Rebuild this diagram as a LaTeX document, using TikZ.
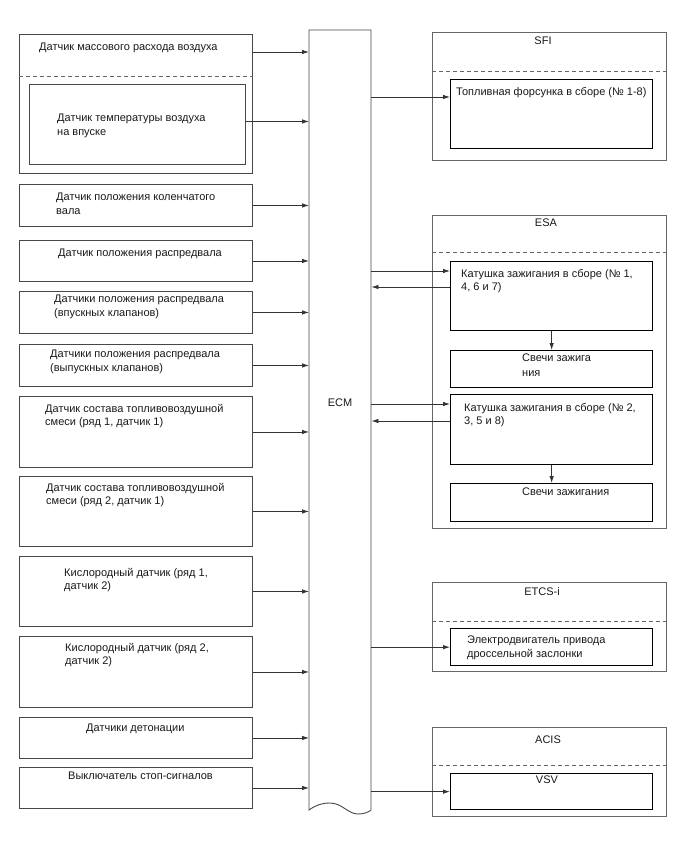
\documentclass[tikz,border=0pt]{standalone}
\usepackage{fontspec}
\setmainfont{Liberation Sans}
\usetikzlibrary{arrows.meta}
\begin{document}
\begin{tikzpicture}[x=1pt,y=-1pt,
  lbox/.style={draw=black!72,line width=0.9pt,inner sep=0,anchor=north west},
  gbox/.style={draw=black!60,line width=0.8pt,inner sep=0,anchor=north west},
  ibox/.style={draw=black,line width=1.3pt,inner sep=0,anchor=north west},
  txt/.style={inner sep=0,anchor=north west,align=left,font=\fontsize{11}{13.5}\selectfont,text=black!90},
  ctxt/.style={inner sep=0,font=\fontsize{11}{13.5}\selectfont,text=black!90},
  dline/.style={draw=black!60,line width=0.8pt,dash pattern=on 4pt off 3pt},
  arr/.style={draw=black!80,line width=0.8pt,-{Latex[length=7pt,width=4.5pt]}}
]
\useasboundingbox (0,0) rectangle (688,852);
% ECM
\node[inner sep=0,minimum width=62,minimum height=780,anchor=north west] (ecm) at (309,30) {};
\draw[draw=black!72,line width=0.9pt] (309,30) -- (309,810)
  .. controls (316,805) and (322,803) .. (330,803)
  .. controls (342,803) and (348,814) .. (358,814)
  .. controls (364,814) and (369,812) .. (371,810) -- (371,30) -- cycle;
\node[ctxt] (ecmt) at (340,403) {ECM};

% left boxes
\node[lbox,minimum width=233,minimum height=139] (b1) at (19,34) {};
\draw[dline] (b1.west |- 0,76) coordinate (d1) -- (d1 -| b1.east);
\node[lbox,minimum width=216,minimum height=80] (b1i) at (29,84) {};
\node[lbox,minimum width=233,minimum height=42] (b2) at (19,184) {};
\node[lbox,minimum width=233,minimum height=41] (b3) at (19,240) {};
\node[lbox,minimum width=233,minimum height=42] (b4) at (19,291) {};
\node[lbox,minimum width=233,minimum height=42] (b5) at (19,344) {};
\node[lbox,minimum width=233,minimum height=71] (b6) at (19,396) {};
\node[lbox,minimum width=233,minimum height=70] (b7) at (19,476) {};
\node[lbox,minimum width=233,minimum height=70] (b8) at (19,556) {};
\node[lbox,minimum width=233,minimum height=71] (b9) at (19,636) {};
\node[lbox,minimum width=233,minimum height=41] (b10) at (19,717) {};
\node[lbox,minimum width=233,minimum height=41] (b11) at (19,767) {};

\node[txt] (t1) at (39,43) {Датчик массового расхода воздуха};
\node[txt] (t1i) at (57,114) {Датчик температуры воздуха\\на впуске};
\node[txt] (t2) at (56,193) {Датчик положения коленчатого\\вала};
\node[txt] (t3) at (58,249) {Датчик положения распредвала};
\node[txt] (t4) at (54,295) {Датчики положения распредвала\\(впускных клапанов)};
\node[txt] (t5) at (50,350) {Датчики положения распредвала\\(выпускных клапанов)};
\node[txt] (t6) at (45,404) {Датчик состава топливовоздушной\\смеси (ряд 1, датчик 1)};
\node[txt] (t7) at (46,483) {Датчик состава топливовоздушной\\смеси (ряд 2, датчик 1)};
\node[txt] (t8) at (64,568) {Кислородный датчик (ряд 1,\\датчик 2)};
\node[txt] (t9) at (65,643) {Кислородный датчик (ряд 2,\\датчик 2)};
\node[txt] (t10) at (86,724) {Датчики детонации};
\node[txt] (t11) at (68,772) {Выключатель стоп-сигналов};

% left arrows
\coordinate (m1) at ([yshift=-18pt]b1.north east);
\draw[arr] (m1) -- (m1 -| ecm.west);
\coordinate (m1i) at ([yshift=3pt]b1i.east);
\draw[arr] (m1i) -- (m1i -| ecm.west);
\foreach \b in {b2,b3,b4,b5,b6,b7,b8,b9,b10,b11}
  \draw[arr] (\b.east) -- (\b.east -| ecm.west);

% SFI
\node[gbox,minimum width=234,minimum height=128] (sfi) at (432,32) {};
\node[ctxt] (sfit) at (543,41) {SFI};
\draw[dline] (sfi.west |- 0,71) coordinate (d2) -- (d2 -| sfi.east);
\node[ibox,minimum width=202,minimum height=69] (inj) at (450,79) {};
\node[txt] (injt) at (456,87) {Топливная форсунка в сборе (№ 1-8)};
\coordinate (a1) at ([yshift=-18pt]inj.north west);
\draw[arr] (a1 -| ecm.east) -- (a1);

% ESA
\node[gbox,minimum width=234,minimum height=313] (esa) at (432,215) {};
\node[ctxt] (esat) at (546,223) {ESA};
\draw[dline] (esa.west |- 0,252) coordinate (d3) -- (d3 -| esa.east);
\node[ibox,minimum width=202,minimum height=69] (c1) at (450,261) {};
\node[txt] (c1t) at (461,269) {Катушка зажигания в сборе (№ 1,\\4, 6 и 7)};
\node[ibox,minimum width=202,minimum height=37] (p1) at (450,350) {};
\node[txt,font=\fontsize{11}{15}\selectfont] (p1t) at (522,354) {Свечи зажига\\ния};
\node[ibox,minimum width=202,minimum height=70] (c2) at (450,394) {};
\node[txt] (c2t) at (464,403) {Катушка зажигания в сборе (№ 2,\\3, 5 и 8)};
\node[ibox,minimum width=202,minimum height=38] (p2) at (450,483) {};
\node[txt] (p2t) at (522,488) {Свечи зажигания};
\coordinate (a2) at ([yshift=-10pt]c1.north west);
\coordinate (a3) at ([yshift=-26pt]c1.north west);
\draw[arr] (a2 -| ecm.east) -- (a2);
\draw[arr] (a3) -- (a3 -| ecm.east);
\coordinate (a4) at ([yshift=-10pt]c2.north west);
\coordinate (a5) at ([yshift=-27pt]c2.north west);
\draw[arr] (a4 -| ecm.east) -- (a4);
\draw[arr] (a5) -- (a5 -| ecm.east);
\draw[arr] (c1.south) -- (p1.north);
\draw[arr] (c2.south) -- (p2.north);

% ETCS-i
\node[gbox,minimum width=234,minimum height=89] (etcs) at (432,582) {};
\node[ctxt] (etcst) at (542,592) {ETCS-i};
\draw[dline] (etcs.west |- 0,621) coordinate (d4) -- (d4 -| etcs.east);
\node[ibox,minimum width=202,minimum height=37] (mot) at (450,628) {};
\node[txt] (mott) at (467,636) {Электродвигатель привода\\дроссельной заслонки};
\draw[arr] (mot.west -| ecm.east) -- (mot.west);

% ACIS
\node[gbox,minimum width=234,minimum height=89] (acis) at (432,727) {};
\node[ctxt] (acist) at (548,740) {ACIS};
\draw[dline] (acis.west |- 0,765) coordinate (d5) -- (d5 -| acis.east);
\node[ibox,minimum width=202,minimum height=36] (vsv) at (450,773) {};
\node[ctxt] (vsvt) at (547,780) {VSV};
\draw[arr] (vsv.west -| ecm.east) -- (vsv.west);
\end{tikzpicture}
\end{document}
